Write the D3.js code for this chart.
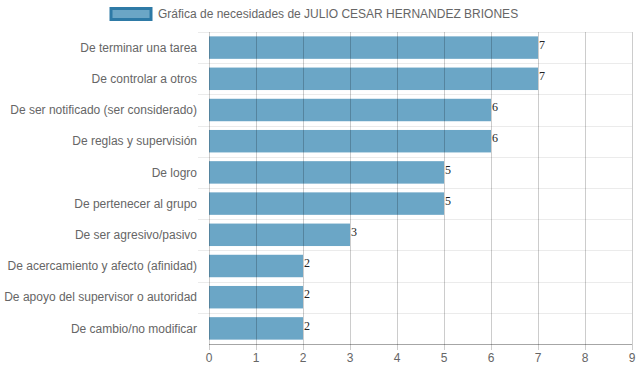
<!DOCTYPE html>
<html>
<head>
<meta charset="utf-8">
<script src="https://cdn.jsdelivr.net/npm/d3@7"></script>
<style>
  body { margin: 0; background: #fff; }
  svg { display: block; font-family: "Liberation Sans", Arial, sans-serif; }
</style>
</head>
<body>
<svg id="chart"></svg>
<script>
// Data
var categories = [
    "De terminar una tarea",
    "De controlar a otros",
    "De ser notificado (ser considerado)",
    "De reglas y supervisión",
    "De logro",
    "De pertenecer al grupo",
    "De ser agresivo/pasivo",
    "De acercamiento y afecto (afinidad)",
    "De apoyo del supervisor o autoridad",
    "De cambio/no modificar"
];
var values = [7, 7, 6, 6, 5, 5, 3, 2, 2, 2];
var xTicks = [0, 1, 2, 3, 4, 5, 6, 7, 8, 9];
var seriesName = "Gráfica de necesidades de JULIO CESAR HERNANDEZ BRIONES";

var data = categories.map((c, i) => ({category: c, value: values[i]}));

var svgWidth = 639;
var svgHeight = 372;
var padding = {t: 32, r: 7, b: 28, l: 209};
var chartWidth = svgWidth - padding.l - padding.r;
var chartHeight = svgHeight - padding.t - padding.b;

const svg = d3.select('#chart')
    .attr('width', svgWidth)
    .attr('height', svgHeight);

var chartG = svg.append('g')
    .attr('transform', 'translate(' + [padding.l, padding.t] + ')');

var xScale = d3.scaleLinear()
    .domain([0, 9])
    .range([0, chartWidth]);

var yScale = d3.scaleBand()
    .domain(categories)
    .range([0, chartHeight])
    .paddingInner(0.28)
    .paddingOuter(0.14);

var band = chartHeight / categories.length;

// Horizontal grid lines at category boundaries
chartG.append('g')
    .selectAll('line')
    .data(d3.range(categories.length))
    .enter()
    .append('line')
    .attr('x1', -11)
    .attr('x2', chartWidth)
    .attr('y1', d => Math.round(d * band) + 0.5)
    .attr('y2', d => Math.round(d * band) + 0.5)
    .attr('stroke', '#ebebeb')
    .attr('stroke-width', 1);

// Bars
chartG.selectAll('.bar')
    .data(data)
    .enter()
    .append('rect')
    .attr('class', 'bar')
    .attr('x', xScale(0))
    .attr('y', d => yScale(d.category))
    .attr('width', d => xScale(d.value) - xScale(0))
    .attr('height', yScale.bandwidth())
    .attr('fill', '#6ba6c6');

// Vertical grid lines (drawn over bars, semi-transparent)
chartG.append('g')
    .selectAll('line')
    .data(xTicks)
    .enter()
    .append('line')
    .attr('x1', d => Math.round(xScale(d)) + 0.5)
    .attr('x2', d => Math.round(xScale(d)) + 0.5)
    .attr('y1', 0)
    .attr('y2', chartHeight + 6)
    .attr('stroke', 'rgba(0,0,0,0.2)')
    .attr('stroke-width', 1);

// x axis line
chartG.append('line')
    .attr('x1', 0)
    .attr('x2', chartWidth)
    .attr('y1', chartHeight + 0.5)
    .attr('y2', chartHeight + 0.5)
    .attr('stroke', 'rgba(0,0,0,0.35)');

// x tick labels
chartG.selectAll('.x-label')
    .data(xTicks)
    .enter()
    .append('text')
    .attr('class', 'x-label')
    .attr('x', d => xScale(d))
    .attr('y', chartHeight + 18)
    .attr('text-anchor', 'middle')
    .attr('fill', '#666')
    .attr('font-size', '12px')
    .text(d => d);

// y labels
chartG.selectAll('.y-label')
    .data(categories)
    .enter()
    .append('text')
    .attr('class', 'y-label')
    .attr('x', -12)
    .attr('y', d => yScale(d) + yScale.bandwidth() / 2)
    .attr('dy', '0.35em')
    .attr('text-anchor', 'end')
    .attr('fill', '#666')
    .attr('font-size', '12px')
    .text(d => d);

// Value labels
chartG.selectAll('.bar-label')
    .data(data)
    .enter()
    .append('text')
    .attr('class', 'bar-label')
    .attr('x', d => xScale(d.value) + 1)
    .attr('y', d => yScale(d.category) + yScale.bandwidth() / 2 - 3)
    .attr('dy', '0.35em')
    .attr('fill', '#222')
    .attr('font-family', '"Liberation Serif", "Times New Roman", serif')
    .attr('font-size', '12px')
    .text(d => d.value);

// Legend
var legend = svg.append('g');
legend.append('rect')
    .attr('x', 111)
    .attr('y', 8.5)
    .attr('width', 40)
    .attr('height', 11)
    .attr('fill', '#6ba6c6')
    .attr('stroke', '#2e7aa6')
    .attr('stroke-width', 3);
legend.append('text')
    .attr('x', 158)
    .attr('y', 14)
    .attr('dy', '0.35em')
    .attr('fill', '#666')
    .attr('font-size', '12px')
    .text(seriesName);
</script>
</body>
</html>
